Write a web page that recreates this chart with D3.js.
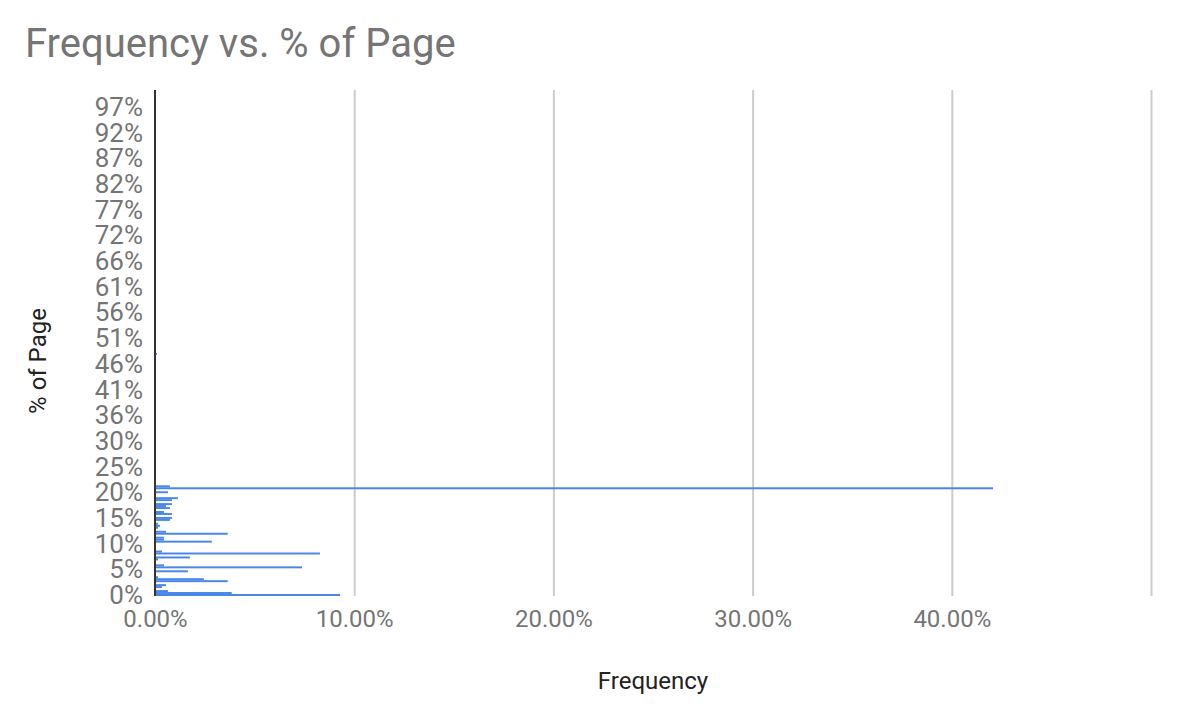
<!DOCTYPE html>
<html>
<head>
<meta charset="utf-8">
<script src="https://cdn.jsdelivr.net/npm/d3@7/dist/d3.min.js"></script>
<style>
  html, body { margin: 0; padding: 0; background: #fff; }
  svg { display: block; font-family: Roboto, "Noto Sans", sans-serif; }
</style>
</head>
<body>
<svg id="chart" width="1178" height="718"></svg>
<script>
// ---- data ----
const categoryCount = 256;               // number of "% of Page" categories
const yTickEvery = 13;                    // a label every 13th category
const yTickLabels = ["0%","5%","10%","15%","20%","25%","30%","36%","41%","46%",
                     "51%","56%","61%","66%","72%","77%","82%","87%","92%","97%"];
const barCategory = [0,1,2,4,5,7,8,9,12,14,15,18,19,21,22,27,28,29,31,32,34,35,36,
                     38,39,41,42,44,45,46,48,49,52,54,55,122];
const barFrequency = [0.0929,0.0385,0.0065,0.0035,0.0055,0.0365,0.0245,0.0015,0.0165,
                      0.0738,0.0045,0.0015,0.0175,0.0828,0.0035,0.0285,0.0045,0.0045,
                      0.0365,0.0055,0.0015,0.0025,0.0015,0.0075,0.0085,0.0085,0.0045,
                      0.0075,0.0055,0.0085,0.0085,0.0115,0.0065,0.4207,0.0075,0.0010];
const xTickValues = [0, 0.1, 0.2, 0.3, 0.4, 0.5];
const xTickLabels = ["0.00%","10.00%","20.00%","30.00%","40.00%",""];

// ---- layout ----
const svg = d3.select("#chart");
const plot = { left: 155, right: 1151, top: 90, bottom: 596 };

const x = d3.scaleLinear().domain([0, 0.5]).range([plot.left, plot.right]);
const y = d3.scaleBand().domain(d3.range(categoryCount))
  .range([plot.bottom, plot.top]).paddingInner(0).paddingOuter(0);

// title
svg.append("text")
  .attr("x", 25).attr("y", 57)
  .attr("fill", "#757575")
  .attr("font-size", 40)
  .text("Frequency vs. % of Page");

// gridlines
const xGrid = d3.axisBottom(x).tickValues(xTickValues.slice(1))
  .tickSize(-(plot.bottom - plot.top)).tickFormat("");
svg.append("g")
  .attr("transform", `translate(0,${plot.bottom})`)
  .call(xGrid)
  .call(g => g.select(".domain").remove())
  .call(g => g.selectAll("line").attr("stroke", "#cccccc").attr("stroke-width", 2));

// bars
const bars = barCategory.map((c, i) => ({ c, v: barFrequency[i] }));
svg.append("g").selectAll("rect").data(bars).join("rect")
  .attr("x", x(0))
  .attr("y", d => y(d.c))
  .attr("width", d => x(d.v) - x(0))
  .attr("height", y.bandwidth())
  .attr("fill", "#4a86e8");

// zero axis line
svg.append("line")
  .attr("x1", x(0)).attr("x2", x(0))
  .attr("y1", plot.top).attr("y2", plot.bottom)
  .attr("stroke", "#333333").attr("stroke-width", 2);

// y axis labels
const yTickValues = yTickLabels.map((_, i) => i * yTickEvery);
const yAxis = d3.axisLeft(y).tickValues(yTickValues)
  .tickFormat((d, i) => yTickLabels[i]).tickSize(0).tickPadding(0);
svg.append("g")
  .attr("transform", `translate(${plot.left - 12},0)`)
  .call(yAxis)
  .call(g => g.select(".domain").remove())
  .call(g => g.selectAll("text")
     .attr("fill", "#757575").attr("font-size", 26)
     .attr("font-family", "Roboto, sans-serif")
     .attr("dy", "0.35em"));

// x axis labels
const xAxis = d3.axisBottom(x).tickValues(xTickValues)
  .tickFormat((d, i) => xTickLabels[i]).tickSize(0).tickPadding(0);
svg.append("g")
  .attr("transform", `translate(0,${plot.bottom + 14})`)
  .call(xAxis)
  .call(g => g.select(".domain").remove())
  .call(g => g.selectAll("text")
     .attr("fill", "#757575").attr("font-size", 24)
     .attr("font-family", "Roboto, sans-serif")
     .attr("dy", "0.71em"));

// axis titles
svg.append("text")
  .attr("x", 653).attr("y", 689)
  .attr("text-anchor", "middle")
  .attr("fill", "#222222").attr("font-size", 24)
  .text("Frequency");

svg.append("text")
  .attr("transform", "translate(46,361) rotate(-90)")
  .attr("text-anchor", "middle")
  .attr("fill", "#222222").attr("font-size", 24)
  .text("% of Page");
</script>
</body>
</html>
